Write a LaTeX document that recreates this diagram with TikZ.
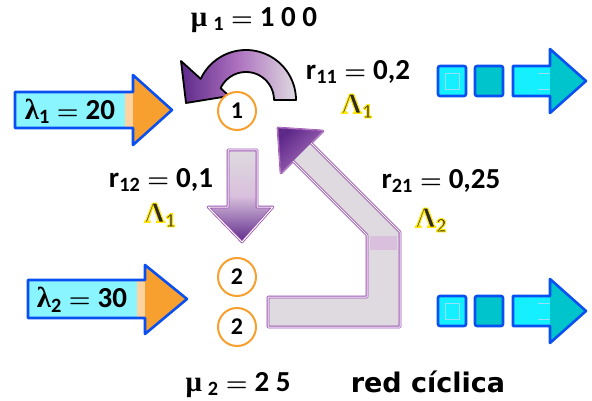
\documentclass[tikz,border=0pt]{standalone}
\usepackage{fontspec}
\setmainfont{Carlito}
\newfontfamily\grk{Liberation Serif}
\newfontfamily\wide{DejaVu Sans}
\usepackage{xcolor}
\usepackage{tikz}
\usetikzlibrary{positioning}
\definecolor{inblue}{HTML}{0A4FF0}
\definecolor{incyan}{HTML}{8AF4FF}
\definecolor{inorange}{HTML}{F7A030}
\definecolor{lightorange}{HTML}{FFD2A0}
\definecolor{outcyan}{HTML}{14F0FF}
\definecolor{outteal}{HTML}{00C4CC}
\definecolor{darkpurple}{HTML}{5E2A8A}
\definecolor{midpurple}{HTML}{9A4FB0}
\definecolor{palepurple}{HTML}{D9C0DD}
\definecolor{paleg}{HTML}{DEDADF}
\newcommand{\eqsign}{\hspace{7pt}$=$\hspace{7pt}}
\newcommand{\glowtext}[1]{\special{pdf:literal direct 2 Tr 1.1 w 1 0.9 0 RG}#1\special{pdf:literal direct 0 Tr 0 0 0 RG}}
\begin{document}
\begin{tikzpicture}[x=1pt,y=-1pt,
  lbl/.style={font=\bfseries\boldmath\fontsize{29}{31}\selectfont,inner sep=0pt},
  lam/.style={font=\bfseries\fontsize{29}{31}\selectfont,inner sep=0pt,text=black!90!olive},
  circ/.style={circle,draw=inorange,line width=2pt,fill=white,minimum size=38pt,inner sep=0pt,font=\bfseries\fontsize{24}{26}\selectfont},
  inarrow/.style={draw=inblue,line width=2.6pt,line join=round},
  outbox/.style={draw=inblue,line width=2.6pt,rounded corners=2pt},
  purpedge/.style={draw=midpurple,line width=0.8pt,double=white,double distance=1pt,line join=round}]
\useasboundingbox (0,0) rectangle (592,401);
% entradas
\fill[incyan] (15,92) rectangle (125,128);
\fill[lightorange] (125,92) rectangle (134,128);
\fill[inorange] (133,75) -- (172,110) -- (133,145) -- cycle;
\draw[inarrow] (15,92) -- (133,92) -- (133,75) -- (172,110) -- (133,145) -- (133,128) -- (15,128) -- cycle;
\fill[incyan] (28,280) rectangle (137,318);
\fill[lightorange] (137,280) rectangle (146,318);
\fill[inorange] (145,265) -- (187,299) -- (145,334) -- cycle;
\draw[inarrow] (28,280) -- (145,280) -- (145,265) -- (187,299) -- (145,334) -- (145,318) -- (28,318) -- cycle;
\node[lbl] (lam1) at (70,111) {{\grk λ}\textsubscript{1}\eqsign 20};
\node[lbl] (lam2) at (82,300) {{\grk λ}\textsubscript{2}\eqsign 30};
% salidas
\foreach \y in {81,311}{
  \draw[outbox,fill=outcyan] (438,{\y-15}) rectangle (466,{\y+15});
  \draw[cyan!40,line width=0.8pt] (445,{\y-8}) rectangle (459,{\y+8});
  \draw[outbox,fill=outteal] (475,{\y-15}) rectangle (503,{\y+15});
  \fill[outcyan] (513,{\y-15}) rectangle (551,{\y+15});
  \fill[outteal] (550,{\y-32}) -- (586,\y) -- (550,{\y+32}) -- cycle;
  \draw[cyan!40,line width=0.8pt] (538,{\y-8}) -- (550,{\y-8}) (538,{\y+8}) -- (550,{\y+8});
  \draw[inarrow] (513,{\y-15}) -- (550,{\y-15}) -- (550,{\y-32}) -- (586,\y) -- (550,{\y+32}) -- (550,{\y+15}) -- (513,{\y+15}) -- cycle;
}
% flechas de enrutamiento
\draw[black,line width=1.8pt,line join=round,left color=darkpurple,right color=paleg,middle color=midpurple!80]
  plot[domain=0:155,samples=40] ({246+50*cos(\x)},{100-50*sin(\x)}) -- (181,61) -- (186,103) -- (229,96)
  -- plot[domain=155:0,samples=40] ({246+28*cos(\x)},{100-28*sin(\x)}) -- cycle;
\draw[purpedge,top color=paleg,bottom color=darkpurple,middle color=palepurple]
  (228,150) -- (257,150) -- (257,207) -- (273,207) -- (242,242) -- (208,207) -- (228,207) -- cycle;
\draw[purpedge,fill=paleg]
  (268,297) -- (367,297) -- (367,235) -- (293,161) -- (281,173) -- (278,128) -- (323,131) -- (311,143) -- (400,232) -- (400,327) -- (268,327) -- cycle;
\fill[palepurple] (370,236) -- (397,236) -- (397,250) -- (370,250) -- cycle;
\shade[left color=darkpurple,right color=midpurple!80,shading angle=45] (281,173) -- (278,128) -- (323,131) -- cycle;
\draw[midpurple,line width=0.8pt,line join=round] (281,173) -- (278,128) -- (323,131);
% estaciones
\node[circ] (q1) at (237,111) {1};
\node[circ] (q2a) at (237,277) {2};
\node[circ] (q2b) at (237,327) {2};
% textos
\node[lbl] (mu1) at (254,20) {{\grk μ}\hspace{6pt}\textsubscript{1}\eqsign 1 0 0};
\node[lbl] (r11) at (358,72) {r\textsubscript{11}\eqsign 0,2};
\node[lam] (L11) at (357,106) {\glowtext{{\grk Λ}\textsubscript{1}}};
\node[lbl] (r12) at (161,180) {r\textsubscript{12}\eqsign 0,1};
\node[lam] (L12) at (160,215) {\glowtext{{\grk Λ}\textsubscript{1}}};
\node[lbl] (r21) at (441,181) {r\textsubscript{21}\eqsign 0,25};
\node[lam] (L2) at (431,220) {\glowtext{{\grk Λ}\textsubscript{2}}};
\node[lbl] (mu2) at (238,385) {{\grk μ}\hspace{6pt}\textsubscript{2}\eqsign 2 5};
\node[lbl,font=\wide\bfseries\fontsize{27}{29}\selectfont] (red) at (428,382) {red cíclica};
\end{tikzpicture}
\end{document}
